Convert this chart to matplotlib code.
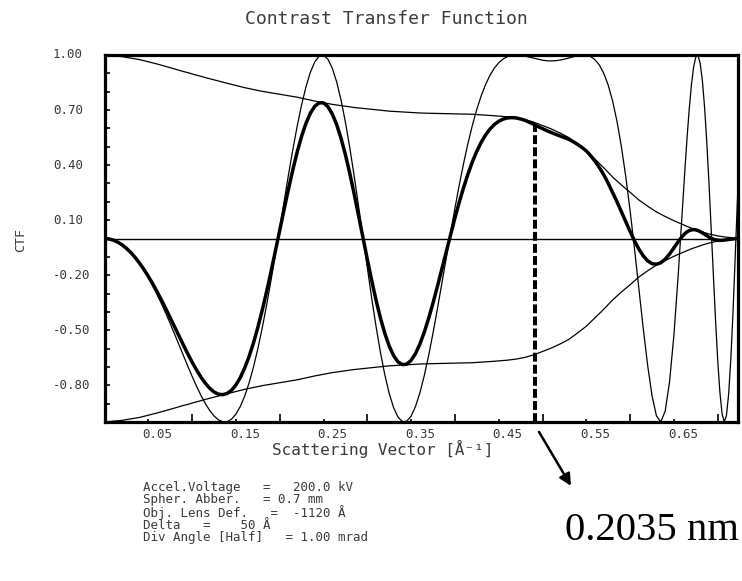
import matplotlib
matplotlib.use("Agg")
import matplotlib.pyplot as plt
import matplotlib.transforms as mtransforms
import numpy as np

# ---- data -------------------------------------------------------------
# scattering vector k [1/Angstrom]
scattering_vector = [
    0.000, 0.005, 0.010, 0.015, 0.020, 0.025, 0.030, 0.035, 0.040, 0.045,
    0.050, 0.055, 0.060, 0.065, 0.070, 0.075, 0.080, 0.085, 0.090, 0.095,
    0.100, 0.105, 0.110, 0.115, 0.120, 0.125, 0.130, 0.135, 0.140, 0.145,
    0.150, 0.155, 0.160, 0.165, 0.170, 0.175, 0.180, 0.185, 0.190, 0.195,
    0.200, 0.205, 0.210, 0.215, 0.220, 0.225, 0.230, 0.235, 0.240, 0.245,
    0.250, 0.255, 0.260, 0.265, 0.270, 0.275, 0.280, 0.285, 0.290, 0.295,
    0.300, 0.305, 0.310, 0.315, 0.320, 0.325, 0.330, 0.335, 0.340, 0.345,
    0.350, 0.355, 0.360, 0.365, 0.370, 0.375, 0.380, 0.385, 0.390, 0.395,
    0.400, 0.405, 0.410, 0.415, 0.420, 0.425, 0.430, 0.435, 0.440, 0.445,
    0.450, 0.455, 0.460, 0.465, 0.470, 0.475, 0.480, 0.485, 0.490, 0.495,
    0.500, 0.505, 0.510, 0.515, 0.520, 0.525, 0.530, 0.535, 0.540, 0.545,
    0.550, 0.555, 0.560, 0.565, 0.570, 0.575, 0.580, 0.585, 0.590, 0.595,
    0.600, 0.605, 0.610, 0.615, 0.620, 0.625, 0.630, 0.635, 0.640, 0.645,
    0.650, 0.655, 0.660,
    0.6625, 0.6650, 0.6675, 0.6700, 0.6725, 0.6750, 0.6775, 0.6800, 0.6825,
    0.6850, 0.6875, 0.6900, 0.6925, 0.6950, 0.6975, 0.7000, 0.7025, 0.7050,
    0.7075, 0.7100, 0.7125, 0.7150, 0.7175, 0.7200, 0.7225, 0.7235,
]

# coherent CTF (no damping)
ctf_coherent = [
    0.0, -0.0022, -0.0087, -0.0195, -0.0346, -0.0541, -0.0777, -0.1056, -0.1377, -0.1738,
    -0.2138, -0.2576, -0.3047, -0.3551, -0.4081, -0.4635, -0.5206, -0.5787, -0.6370, -0.6948,
    -0.7509, -0.8044, -0.8540, -0.8985, -0.9365, -0.9669, -0.9881, -0.9989, -0.9980, -0.9845,
    -0.9572, -0.9156, -0.8591, -0.7878, -0.7017, -0.6016, -0.4885, -0.3640, -0.2301, -0.0892,
    0.0561, 0.2024, 0.3464, 0.4845, 0.6130, 0.7283, 0.8269, 0.9057, 0.9620, 0.9935,
    0.9988, 0.9771, 0.9284, 0.8537, 0.7547, 0.6339, 0.4947, 0.3410, 0.1773, 0.0084,
    -0.1608, -0.3253, -0.4800, -0.6206, -0.7432, -0.8443, -0.9215, -0.9729, -0.9976, -0.9957,
    -0.9678, -0.9157, -0.8414, -0.7478, -0.6380, -0.5154, -0.3839, -0.2468, -0.1074, 0.0306,
    0.1647, 0.2925, 0.4115, 0.5205, 0.6182, 0.7039, 0.7774, 0.8390, 0.8890, 0.9282,
    0.9576, 0.9782, 0.9913, 0.9981, 1.0000, 0.9982, 0.9938, 0.9881, 0.9820, 0.9762,
    0.9716, 0.9687, 0.9677, 0.9690, 0.9723, 0.9774, 0.9837, 0.9905, 0.9963, 0.9997,
    0.9988, 0.9912, 0.9742, 0.9447, 0.8997, 0.8356, 0.7496, 0.6388, 0.5017, 0.3386,
    0.1512, -0.0556, -0.2733, -0.4902, -0.6907, -0.8561, -0.9657, -0.9995, -0.9413, -0.7824,
    -0.5264, -0.1922, 0.1837,
    0.3714, 0.5481, 0.7065, 0.8379, 0.9346, 0.9894, 0.9970, 0.9540, 0.8595,
    0.7157, 0.5277, 0.3047, 0.0584, -0.1965, -0.4429, -0.6631, -0.8394, -0.9558,
    -0.9999, -0.9639, -0.8467, -0.6538, -0.3988, -0.1023, 0.2089, 0.3307,
]

# damping envelope (spatial x temporal coherence)
envelope = [
    1.000, 0.998, 0.9955, 0.993, 0.991, 0.987, 0.983, 0.979, 0.975, 0.969,
    0.963, 0.957, 0.951, 0.944, 0.9375, 0.931, 0.924, 0.917, 0.910, 0.904,
    0.897, 0.890, 0.884, 0.877, 0.871, 0.865, 0.8585, 0.852, 0.846, 0.840,
    0.834, 0.828, 0.822, 0.817, 0.812, 0.807, 0.802, 0.798, 0.794, 0.790,
    0.786, 0.782, 0.778, 0.774, 0.770, 0.765, 0.7595, 0.754, 0.749, 0.7445,
    0.740, 0.7355, 0.731, 0.7275, 0.724, 0.7205, 0.717, 0.714, 0.7115, 0.709,
    0.706, 0.7035, 0.701, 0.6985, 0.696, 0.694, 0.6925, 0.691, 0.689, 0.688,
    0.6865, 0.685, 0.684, 0.683, 0.6825, 0.682, 0.681, 0.6805, 0.680, 0.6795,
    0.679, 0.6785, 0.678, 0.6775, 0.677, 0.6755, 0.674, 0.6725, 0.671, 0.669,
    0.667, 0.665, 0.663, 0.660, 0.657, 0.6525, 0.648, 0.641, 0.634, 0.625,
    0.616, 0.6065, 0.597, 0.586, 0.575, 0.5625, 0.550, 0.5325, 0.515, 0.4965,
    0.478, 0.455, 0.432, 0.4085, 0.385, 0.360, 0.335, 0.3135, 0.292, 0.272,
    0.252, 0.231, 0.210, 0.193, 0.176, 0.1605, 0.145, 0.1325, 0.120, 0.1085,
    0.097, 0.0865, 0.076,
    0.071, 0.066, 0.061, 0.056, 0.0518, 0.0475, 0.0433, 0.039, 0.0355,
    0.032, 0.0285, 0.025, 0.0223, 0.0195, 0.0168, 0.014, 0.0123, 0.0105,
    0.0088, 0.007, 0.0062, 0.0054, 0.0046, 0.0036, 0.0025, 0.002,
]

# damped CTF (coherent CTF times envelope)
ctf_damped = [
    0.0, -0.0022, -0.0087, -0.0194, -0.0343, -0.0534, -0.0764, -0.1034, -0.1343, -0.1684,
    -0.2059, -0.2465, -0.2898, -0.3352, -0.3826, -0.4315, -0.4810, -0.5307, -0.5797, -0.6281,
    -0.6736, -0.7159, -0.7549, -0.7880, -0.8157, -0.8364, -0.8483, -0.8511, -0.8443, -0.8270,
    -0.7983, -0.7581, -0.7062, -0.6436, -0.5698, -0.4855, -0.3918, -0.2905, -0.1827, -0.0705,
    0.0441, 0.1583, 0.2695, 0.3750, 0.4720, 0.5571, 0.6280, 0.6829, 0.7205, 0.7396,
    0.7391, 0.7187, 0.6787, 0.6211, 0.5464, 0.4567, 0.3547, 0.2435, 0.1262, 0.0060,
    -0.1135, -0.2288, -0.3365, -0.4335, -0.5173, -0.5859, -0.6381, -0.6723, -0.6873, -0.6850,
    -0.6644, -0.6272, -0.5755, -0.5107, -0.4354, -0.3515, -0.2614, -0.1679, -0.0730, 0.0208,
    0.1118, 0.1985, 0.2790, 0.3526, 0.4185, 0.4755, 0.5240, 0.5642, 0.5965, 0.6210,
    0.6387, 0.6505, 0.6572, 0.6587, 0.6570, 0.6513, 0.6440, 0.6334, 0.6226, 0.6101,
    0.5985, 0.5875, 0.5777, 0.5678, 0.5591, 0.5498, 0.5410, 0.5274, 0.5131, 0.4963,
    0.4774, 0.4510, 0.4209, 0.3859, 0.3464, 0.3008, 0.2511, 0.2003, 0.1465, 0.0921,
    0.0381, -0.0128, -0.0574, -0.0946, -0.1216, -0.1374, -0.1400, -0.1324, -0.1130, -0.0849,
    -0.0511, -0.0166, 0.0140,
    0.0264, 0.0362, 0.0431, 0.0469, 0.0484, 0.0470, 0.0432, 0.0372, 0.0305,
    0.0229, 0.0150, 0.0076, 0.0013, -0.0038, -0.0074, -0.0093, -0.0103, -0.0100,
    -0.0088, -0.0067, -0.0052, -0.0035, -0.0018, -0.0004, 0.0005, 0.0007,
]

y_tick_labels = ["1.00", "0.70", "0.40", "0.10", "-0.20", "-0.50", "-0.80"]
x_tick_labels = ["0.05", "0.15", "0.25", "0.35", "0.45", "0.55", "0.65"]

resolution_nm = 0.2035          # point marked on the damped curve
parameter_lines = [
    "Accel.Voltage   =   200.0 kV",
    "Spher. Abber.   = 0.7 mm",
    "Obj. Lens Def.   =  -1120 Å",
    "Delta   =    50 Å",
    "Div Angle [Half]   = 1.00 mrad",
]

# ---- figure -----------------------------------------------------------
W, H = 742, 581
fig = plt.figure(figsize=(W / 100, H / 100), dpi=100)
fig.patch.set_facecolor("white")


def fx(px):
    return px / W


def fy(py):
    return 1 - py / H


ax = fig.add_axes([fx(104.5), fy(422), (738.3 - 104.5) / W, 367 / H])
ax.set_xlim(0, 0.7235)
ax.set_ylim(-1, 1)

k = np.array(scattering_vector)
env = np.array(envelope)

thin = dict(color="black", lw=0.9, solid_joinstyle="round")
ax.axhline(0, color="black", lw=1.0)
ax.plot(k, env, **thin)
ax.plot(k, -env, **thin)
ax.plot(k, ctf_coherent, **thin)
ax.plot(k, ctf_damped, color="black", lw=2.5, solid_joinstyle="round",
        solid_capstyle="round")

# resolution marker
k_res = 1.0 / (resolution_nm * 10.0)
y_res = np.interp(k_res, k, ctf_damped)
ax.plot([k_res, k_res], [-1, y_res], color="black", lw=2.9,
        linestyle=(0, (2.2, 0.8)), solid_capstyle="butt")

for s in ax.spines.values():
    s.set_linewidth(2.3)

# y ticks: every 0.1, labelled every 0.3
y_tick_vals = [float(t) for t in y_tick_labels]
ax.set_yticks(y_tick_vals)
ax.set_yticklabels([])
ax.set_yticks(np.round(np.arange(-0.9, 1.0, 0.1), 2), minor=True)
ax.tick_params(axis="y", which="both", direction="in", length=3.5, width=1.2,
               left=True, right=False)

# x ticks: long every 0.1, short at the odd 0.05 positions
ax.set_xticks([0.1, 0.2, 0.3, 0.4, 0.5, 0.6, 0.7])
ax.set_xticklabels([])
x_tick_vals = [float(t) for t in x_tick_labels]
ax.set_xticks(x_tick_vals, minor=True)
ax.tick_params(axis="x", which="major", direction="in", length=5.5, width=1.2,
               top=False)
ax.tick_params(axis="x", which="minor", direction="in", length=2.2, width=1.2,
               top=False)

label_font = dict(family="DejaVu Sans Mono", color="#3a3a3a")

for v, t in zip(y_tick_vals, y_tick_labels):
    ax.text(fx(53), v, t, transform=mtransforms.blended_transform_factory(
        fig.transFigure, ax.transData), ha="left", va="center", fontsize=9,
        **label_font)

tick_tr = mtransforms.blended_transform_factory(ax.transData, ax.transAxes)
for v, t in zip(x_tick_vals, x_tick_labels):
    ax.text(v - 0.007, -0.016, t, transform=tick_tr, ha="left", va="top",
            fontsize=9, **label_font)

fig.text(fx(383), fy(449), "Scattering Vector [Å⁻¹]", ha="center",
         va="center", fontsize=11.5, **label_font)
fig.text(fx(21), fy(240), "CTF", rotation=90, ha="center", va="center",
         fontsize=9.5, **label_font)
fig.text(fx(386), fy(19), "Contrast Transfer Function", ha="center",
         va="center", fontsize=13, **label_font)

for i, line in enumerate(parameter_lines):
    fig.text(fx(143), fy(487 + 12.75 * i), line, ha="left", va="center",
             fontsize=9, **label_font)

ax.annotate("", xy=(k_res + 0.0411, -0.174), xycoords=tick_tr,
            xytext=(k_res + 0.0046, -0.027), textcoords=tick_tr,
            arrowprops=dict(arrowstyle="-|>,head_length=0.7,head_width=0.35",
                            color="black", lw=1.8, shrinkA=0, shrinkB=0),
            annotation_clip=False)

fig.text(fx(565), fy(540), f"{resolution_nm} nm", ha="left", va="baseline",
         fontsize=29.3, family="Liberation Serif", color="black")

fig.savefig("out.png", dpi=100)
